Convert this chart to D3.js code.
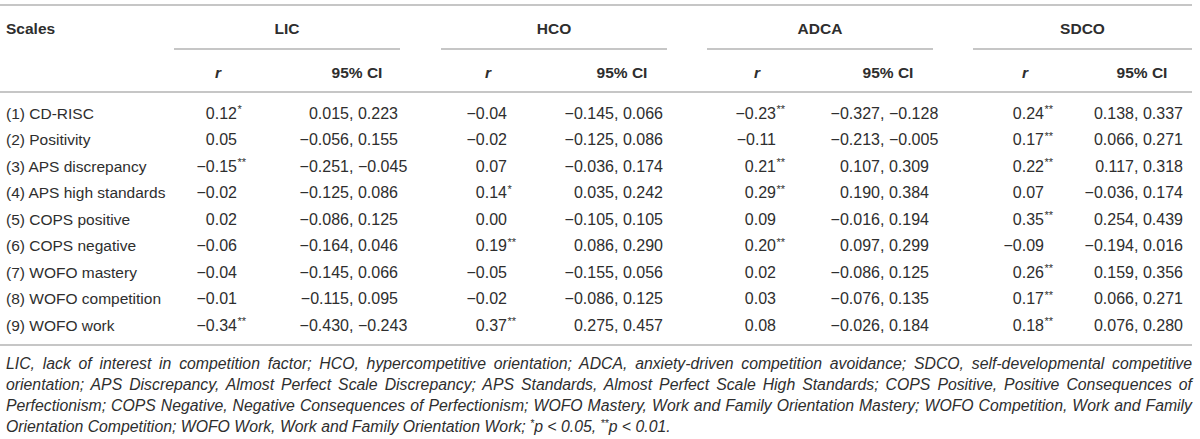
<!DOCTYPE html>
<html>
<head>
<meta charset="utf-8">
<script src="https://cdn.jsdelivr.net/npm/d3@7"></script>
<style>
  html, body { margin: 0; padding: 0; background: #ffffff; }
  svg { display: block; }
  text { font-family: "Liberation Sans", Arial, Helvetica, sans-serif; fill: #2e2e2e; }
</style>
</head>
<body>
<svg id="chart" width="1200" height="439"></svg>
<script>
// ---------- DATA ----------
const scales = [
  "(1) CD-RISC", "(2) Positivity", "(3) APS discrepancy", "(4) APS high standards",
  "(5) COPS positive", "(6) COPS negative", "(7) WOFO mastery", "(8) WOFO competition", "(9) WOFO work"
];
const groups = ["LIC", "HCO", "ADCA", "SDCO"];
const subHeaders = ["r", "95% CI"];

const licR   = [0.12, 0.05, -0.15, -0.02, 0.02, -0.06, -0.04, -0.01, -0.34];
const licSig = ["*", "", "**", "", "", "", "", "", "**"];
const licCI  = [[0.015, 0.223], [-0.056, 0.155], [-0.251, -0.045], [-0.125, 0.086], [-0.086, 0.125],
                [-0.164, 0.046], [-0.145, 0.066], [-0.115, 0.095], [-0.430, -0.243]];

const hcoR   = [-0.04, -0.02, 0.07, 0.14, 0.00, 0.19, -0.05, -0.02, 0.37];
const hcoSig = ["", "", "", "*", "", "**", "", "", "**"];
const hcoCI  = [[-0.145, 0.066], [-0.125, 0.086], [-0.036, 0.174], [0.035, 0.242], [-0.105, 0.105],
                [0.086, 0.290], [-0.155, 0.056], [-0.086, 0.125], [0.275, 0.457]];

const adcaR   = [-0.23, -0.11, 0.21, 0.29, 0.09, 0.20, 0.02, 0.03, 0.08];
const adcaSig = ["**", "", "**", "**", "", "**", "", "", ""];
const adcaCI  = [[-0.327, -0.128], [-0.213, -0.005], [0.107, 0.309], [0.190, 0.384], [-0.016, 0.194],
                 [0.097, 0.299], [-0.086, 0.125], [-0.076, 0.135], [-0.026, 0.184]];

const sdcoR   = [0.24, 0.17, 0.22, 0.07, 0.35, -0.09, 0.26, 0.17, 0.18];
const sdcoSig = ["**", "**", "**", "", "**", "", "**", "**", "**"];
const sdcoCI  = [[0.138, 0.337], [0.066, 0.271], [0.117, 0.318], [-0.036, 0.174], [0.254, 0.439],
                 [-0.194, 0.016], [0.159, 0.356], [0.066, 0.271], [0.076, 0.280]];

const footnoteLines = [
  "LIC, lack of interest in competition factor; HCO, hypercompetitive orientation; ADCA, anxiety-driven competition avoidance; SDCO, self-developmental competitive",
  "orientation; APS Discrepancy, Almost Perfect Scale Discrepancy; APS Standards, Almost Perfect Scale High Standards; COPS Positive, Positive Consequences of",
  "Perfectionism; COPS Negative, Negative Consequences of Perfectionism; WOFO Mastery, Work and Family Orientation Mastery; WOFO Competition, Work and Family",
  "Orientation Competition; WOFO Work, Work and Family Orientation Work; "
];

// ---------- LAYOUT ----------
const FS = 15.5;      // labels / headers
const NFS = 16;       // numbers
const lineColor = "#c6c6c6";
const groupRange = [[174, 400], [441, 667], [707, 933], [973, 1192]];
const rCenter  = [218, 488, 757, 1025];
const ciCenter = [357, 622, 888, 1142];
const rOffset = 19;    // right edge of r value relative to header centre
const ciOffset = -8;   // comma position relative to header centre

const tableData = [
  { r: licR,  sig: licSig,  ci: licCI },
  { r: hcoR,  sig: hcoSig,  ci: hcoCI },
  { r: adcaR, sig: adcaSig, ci: adcaCI },
  { r: sdcoR, sig: sdcoSig, ci: sdcoCI }
];

const svg = d3.select("#chart");
const fmtR = d3.format(".2f");
const fmtCI = d3.format(".3f");

const y = d3.scaleLinear().domain([0, scales.length - 1]).range([113, 325]);
const capShift = FS * 0.36;

function hline(x1, x2, yy) {
  svg.append("line").attr("x1", x1).attr("x2", x2).attr("y1", yy).attr("y2", yy)
    .attr("stroke", lineColor).attr("stroke-width", 2);
}

// rules
hline(0, 1192, 5);
hline(0, 1192, 92);
hline(0, 1192, 345);
groupRange.forEach(g => hline(g[0], g[1], 49));

// header row 1
svg.append("text").attr("x", 6).attr("y", 28 + capShift)
  .attr("font-size", FS).attr("font-weight", "bold").text("Scales");
svg.selectAll(".grp").data(groups).join("text")
  .attr("class", "grp")
  .attr("x", (d, i) => (groupRange[i][0] + groupRange[i][1]) / 2)
  .attr("y", 28 + capShift)
  .attr("text-anchor", "middle").attr("font-size", FS).attr("font-weight", "bold")
  .text(d => d);

// header row 2
groups.forEach((g, i) => {
  svg.append("text").attr("x", rCenter[i]).attr("y", 72 + capShift)
    .attr("text-anchor", "middle").attr("font-size", FS).attr("font-weight", "bold")
    .attr("font-style", "italic").text(subHeaders[0]);
  svg.append("text").attr("x", ciCenter[i]).attr("y", 72 + capShift)
    .attr("text-anchor", "middle").attr("font-size", FS).attr("font-weight", "bold")
    .text(subHeaders[1]);
});

// row labels
svg.selectAll(".lbl").data(scales).join("text")
  .attr("class", "lbl")
  .attr("x", 6).attr("y", (d, i) => y(i) + capShift)
  .attr("font-size", FS).text(d => d);

// values
tableData.forEach((col, gi) => {
  col.r.forEach((v, i) => {
    const xr = rCenter[gi] + rOffset;
    svg.append("text").attr("x", xr).attr("y", y(i) + capShift)
      .attr("text-anchor", "end").attr("font-size", NFS).text(fmtR(v));
    if (col.sig[i]) {
      svg.append("text").attr("x", xr + 0.5).attr("y", y(i) + capShift - 5.5)
        .attr("font-size", 11).text(col.sig[i]);
    }
  });
  col.ci.forEach((pair, i) => {
    const xc = ciCenter[gi] + ciOffset;
    svg.append("text").attr("x", xc).attr("y", y(i) + capShift)
      .attr("text-anchor", "end").attr("font-size", NFS).text(fmtCI(pair[0]));
    svg.append("text").attr("x", xc).attr("y", y(i) + capShift)
      .attr("font-size", NFS).text(", " + fmtCI(pair[1]));
  });
});

// footnote
const fnY = [363, 384, 405, 426];
const FFS = 15.8;
const fnLeft = 6, fnRight = 1192;
footnoteLines.forEach((line, i) => {
  const t = svg.append("text").attr("x", fnLeft).attr("y", fnY[i] + FFS * 0.36)
    .attr("font-size", FFS).attr("font-style", "italic");
  t.append("tspan").text(line);
  if (i === footnoteLines.length - 1) {
    t.append("tspan").attr("font-size", 10.5).attr("dy", -4.5).text("*");
    t.append("tspan").attr("dy", 4.5).text("p < 0.05, ");
    t.append("tspan").attr("font-size", 10.5).attr("dy", -4.5).text("**");
    t.append("tspan").attr("dy", 4.5).text("p < 0.01.");
  } else {
    const natural = t.node().getComputedTextLength();
    const spaces = (line.match(/ /g) || []).length;
    const ws = (fnRight - fnLeft - natural) / spaces;
    t.attr("word-spacing", ws);
  }
});
</script>
</body>
</html>
